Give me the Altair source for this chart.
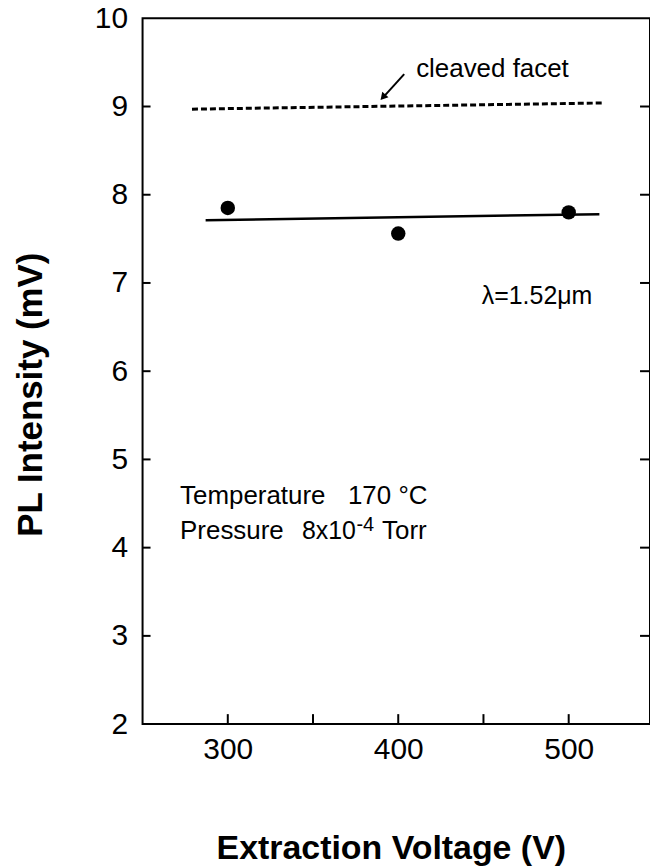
import altair as alt
import pandas as pd

# ---- data ----
voltage = [300, 400, 500]
intensity = [7.85, 7.56, 7.80]

fit_x = [287, 518]
fit_y = [7.71, 7.78]

facet_x = [279, 520]
facet_y = [8.97, 9.04]

arrow_x = [403.5, 391.0]
arrow_y = [9.367, 9.10]
arrow_head_x = [391.5]
arrow_head_y = [9.115]

x_label_values = [300, 400, 500]
x_tick_values = [300, 350, 400, 450, 500]
y_label_values = [2, 3, 4, 5, 6, 7, 8, 9, 10]
y_tick_values = [3, 4, 5, 6, 7, 8, 9]

ann_text = ["cleaved facet", "λ=1.52μm", "Temperature", "170 °C",
            "Pressure", "8x10", "-4", "Torr"]
ann_x = [410.5, 449.0, 272.0, 370.5, 272.0, 343.5, 375.5, 390.5]
ann_y = [9.33, 6.76, 4.494, 4.494, 4.095, 4.095, 4.19, 4.095]
ann_size = [26, 25, 26, 26, 26, 25, 20, 26]

X_DOMAIN = [250, 547.7]
Y_DOMAIN = [2, 10]
W, H = 509, 708
FONT = "Liberation Sans"

xs = alt.Scale(domain=X_DOMAIN, nice=False, zero=False)
ys = alt.Scale(domain=Y_DOMAIN, nice=False, zero=False)

x_axis = alt.Axis(values=x_label_values, ticks=False, domain=False, grid=False,
                  labelFontSize=30, labelPadding=10, labelColor="black", labelFont=FONT,
                  format="d", title="Extraction Voltage (V)", titleFontSize=34,
                  titleFont=FONT, titleFontWeight="bold", titleColor="black",
                  titleX=249, titleY=135, titleAlign="center", titleBaseline="alphabetic")
y_axis = alt.Axis(values=y_label_values, ticks=False, domain=False, grid=False,
                  labelFontSize=30, labelPadding=15, labelColor="black", labelFont=FONT,
                  format="d", title="PL Intensity (mV)", titleFontSize=35,
                  titleFont=FONT, titleFontWeight="bold", titleColor="black",
                  titleAngle=-90, titleX=-101, titleY=377, titleAlign="center",
                  titleBaseline="alphabetic")

X = alt.X("x:Q", scale=xs, axis=x_axis)
Y = alt.Y("y:Q", scale=ys, axis=y_axis)

pts = pd.DataFrame({"x": voltage, "y": intensity})
fit = pd.DataFrame({"x": fit_x, "y": fit_y})
fac = pd.DataFrame({"x": facet_x, "y": facet_y})
arr = pd.DataFrame({"x": arrow_x, "y": arrow_y})
arrh = pd.DataFrame({"x": arrow_head_x, "y": arrow_head_y})
ann = pd.DataFrame({"x": ann_x, "y": ann_y, "t": ann_text, "fs": ann_size})
ytk = pd.DataFrame({"y": y_tick_values})
xtk = pd.DataFrame({"x": x_tick_values})

points = alt.Chart(pts).mark_circle(size=210, color="black", opacity=1).encode(x=X, y=Y)
fit_line = alt.Chart(fit).mark_line(color="black", strokeWidth=2.5).encode(x=X, y=Y)
facet_line = alt.Chart(fac).mark_line(color="black", strokeWidth=3,
                                      strokeDash=[6, 3]).encode(x=X, y=Y)
arrow_line = alt.Chart(arr).mark_line(color="black", strokeWidth=2).encode(x=X, y=Y)
arrow_head = alt.Chart(arrh).mark_point(shape="triangle", filled=True, size=70,
                                        angle=222, color="black", opacity=1).encode(x=X, y=Y)
texts = alt.Chart(ann).mark_text(align="left", baseline="alphabetic", font=FONT,
                                 color="black").encode(
    x=X, y=Y, text="t:N", size=alt.Size("fs:Q", scale=None, legend=None))

left_ticks = alt.Chart(ytk).mark_rule(color="black", strokeWidth=2).encode(
    y=Y, x=alt.value(0), x2=alt.value(8))
right_ticks = alt.Chart(ytk).mark_rule(color="black", strokeWidth=2).encode(
    y=Y, x=alt.value(W - 10), x2=alt.value(W))
bottom_ticks = alt.Chart(xtk).mark_rule(color="black", strokeWidth=2).encode(
    x=X, y=alt.value(H), y2=alt.value(H - 10))

chart = alt.layer(points, fit_line, facet_line, arrow_line, arrow_head, texts,
                  left_ticks, right_ticks, bottom_ticks).properties(
    width=W, height=H,
    autosize=alt.AutoSizeParams(type="none"),
    padding={"left": 143, "top": 17, "right": 0, "bottom": 142},
    background="white",
).configure_view(stroke="black", strokeWidth=2)

chart.save("out.html", embed_options={"renderer": "svg", "actions": False})
